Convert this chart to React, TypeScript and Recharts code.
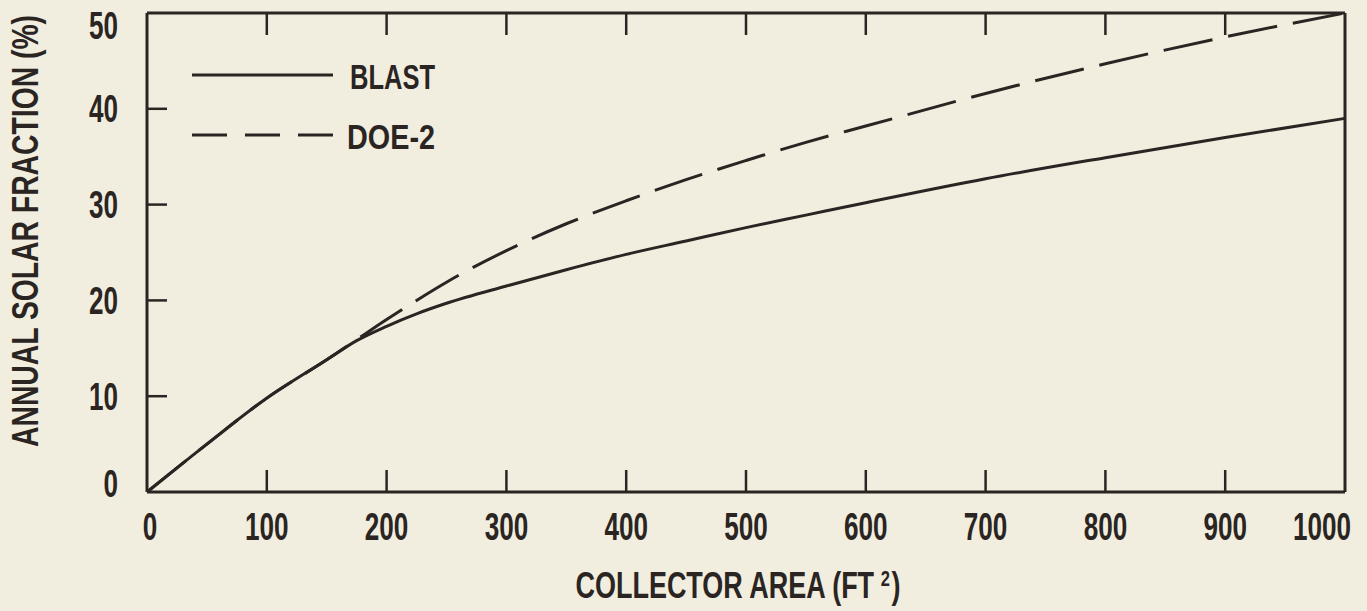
import { LineChart, Line, XAxis, YAxis, Legend } from 'recharts'

const areas = [0, 50, 100, 150, 175, 200, 225, 250, 300, 350, 400, 450, 500, 550, 600, 700, 800, 900, 1000]
const blast = [0, 5.0, 9.8, 13.8, 15.8, 17.3, 18.6, 19.7, 21.5, 23.2, 24.8, 26.2, 27.6, 28.9, 30.2, 32.7, 34.9, 37.0, 39.0]
const doe2 = [0, 5.0, 9.8, 13.8, 15.9, 18.0, 20.0, 21.9, 25.2, 28.0, 30.4, 32.6, 34.6, 36.5, 38.2, 41.6, 44.7, 47.5, 50.0]
const xTicks = [0, 100, 200, 300, 400, 500, 600, 700, 800, 900, 1000]
const yTicks = [0, 10, 20, 30, 40, 50]

const data = areas.map((area, i) => ({ area, blast: blast[i], doe2: doe2[i] }))

const INK = '#2a2522'
const BG = '#f1eedf'
const FONT = "'Liberation Sans', Arial, sans-serif"
const TICK_LEN = 22
const DIGIT_W = 14.5

const textStyle = { fontFamily: FONT, fontWeight: 700, fill: INK }

function BottomTick({ x, y, payload }: any) {
  const v = payload.value
  const s = String(v)
  const first = v === xTicks[0]
  const last = v === xTicks[xTicks.length - 1]
  return (
    <g>
      {!first && !last && <line x1={x} y1={y} x2={x} y2={y - TICK_LEN} stroke={INK} strokeWidth={2.5} />}
      <text
        x={last ? x + 6 : first ? x + 3 : x}
        y={y + 48}
        textAnchor={last ? 'end' : 'middle'}
        fontSize={38}
        textLength={s.length * DIGIT_W}
        lengthAdjust="spacingAndGlyphs"
        {...textStyle}
      >
        {s}
      </text>
    </g>
  )
}

function TopTick({ x, y, payload }: any) {
  const v = payload.value
  if (v === xTicks[0] || v === xTicks[xTicks.length - 1]) return <g />
  return <line x1={x} y1={y} x2={x} y2={y + TICK_LEN} stroke={INK} strokeWidth={2.5} />
}

function LeftTick({ x, y, payload }: any) {
  const v = payload.value
  const s = String(v)
  const first = v === yTicks[0]
  const last = v === yTicks[yTicks.length - 1]
  const cy = last ? y + 12 : first ? y - 9 : y
  return (
    <g>
      {!first && !last && <line x1={x} y1={y} x2={x + TICK_LEN - 2} y2={y} stroke={INK} strokeWidth={2.5} />}
      <text
        x={x - 29}
        y={cy + 13.5}
        textAnchor="end"
        fontSize={38}
        textLength={s.length * DIGIT_W}
        lengthAdjust="spacingAndGlyphs"
        {...textStyle}
      >
        {s}
      </text>
    </g>
  )
}

function RightTick({ x, y, payload }: any) {
  const v = payload.value
  if (v === yTicks[0] || v === yTicks[yTicks.length - 1]) return <g />
  return <line x1={x} y1={y} x2={x - TICK_LEN} y2={y} stroke={INK} strokeWidth={2.5} />
}

function XTitle({ viewBox }: any) {
  const cx = viewBox.x + viewBox.width / 2 - 8
  return (
    <text x={cx} y={viewBox.y + 106} textAnchor="middle" fontSize={36} textLength={325} lengthAdjust="spacingAndGlyphs" {...textStyle}>
      COLLECTOR AREA (FT<tspan dx={9} dy={-12} fontSize={22}>2</tspan><tspan dx={2} dy={12}>)</tspan>
    </text>
  )
}

function YTitle({ viewBox }: any) {
  const cy = viewBox.y + 218
  return (
    <text
      x={0}
      y={0}
      transform={`translate(38, ${cy}) rotate(-90)`}
      textAnchor="middle"
      fontSize={36}
      textLength={432}
      lengthAdjust="spacingAndGlyphs"
      {...textStyle}
    >
      ANNUAL SOLAR FRACTION (%)
    </text>
  )
}

function LegendBox({ payload }: any) {
  return (
    <svg width={300} height={110}>
      {(payload || []).map((e: any, i: number) => {
        const y = 20 + i * 60
        const dashed = !!e.payload?.strokeDasharray || e.value === 'DOE-2'
        return (
          <g key={e.value}>
            <line x1={7} x2={148} y1={y} y2={y} stroke={INK} strokeWidth={3} strokeDasharray={dashed ? '35 18' : undefined} />
            <text
              x={dashed ? 162 : 165}
              y={y + 14}
              fontSize={35}
              textLength={dashed ? 88 : 85}
              lengthAdjust="spacingAndGlyphs"
              {...textStyle}
            >
              {e.value}
            </text>
          </g>
        )
      })}
    </svg>
  )
}

export default function App() {
  return (
    <div style={{ position: 'absolute', left: 0, top: 0, width: 1367, height: 611, background: BG }}>
      <LineChart width={1367} height={611} data={data} margin={{ top: 12, right: 21, left: 0, bottom: 0 }}>
        <XAxis
          dataKey="area"
          type="number"
          domain={[0, 1000]}
          ticks={xTicks}
          interval={0}
          height={119}
          tickSize={0}
          tickMargin={0}
          tickLine={false}
          axisLine={{ stroke: INK, strokeWidth: 3 }}
          tick={<BottomTick />}
          label={{ content: <XTitle /> }}
        />
        <XAxis
          xAxisId="top"
          dataKey="area"
          type="number"
          orientation="top"
          domain={[0, 1000]}
          ticks={xTicks}
          interval={0}
          height={1}
          tickSize={0}
          tickMargin={0}
          tickLine={false}
          axisLine={{ stroke: INK, strokeWidth: 3 }}
          tick={<TopTick />}
        />
        <YAxis
          type="number"
          domain={[0, 50]}
          ticks={yTicks}
          interval={0}
          width={147}
          tickSize={0}
          tickMargin={0}
          tickLine={false}
          axisLine={{ stroke: INK, strokeWidth: 3 }}
          tick={<LeftTick />}
          label={{ content: <YTitle /> }}
        />
        <YAxis
          yAxisId="right"
          type="number"
          orientation="right"
          domain={[0, 50]}
          ticks={yTicks}
          interval={0}
          width={1}
          tickSize={0}
          tickMargin={0}
          tickLine={false}
          axisLine={{ stroke: INK, strokeWidth: 3 }}
          tick={<RightTick />}
        />
        <Legend
          layout="horizontal"
          verticalAlign="middle"
          align="center"
          wrapperStyle={{ left: 185, top: 55, width: 300, height: 110 }}
          content={<LegendBox />}
        />
        <Line
          name="BLAST"
          dataKey="blast"
          type="monotone"
          stroke={INK}
          strokeWidth={3}
          dot={false}
          activeDot={false}
          isAnimationActive={false}
        />
        <Line
          name="DOE-2"
          dataKey="doe2"
          type="monotone"
          stroke={INK}
          strokeWidth={3}
          strokeDasharray="50 16"
          dot={false}
          activeDot={false}
          isAnimationActive={false}
        />
      </LineChart>
    </div>
  )
}
